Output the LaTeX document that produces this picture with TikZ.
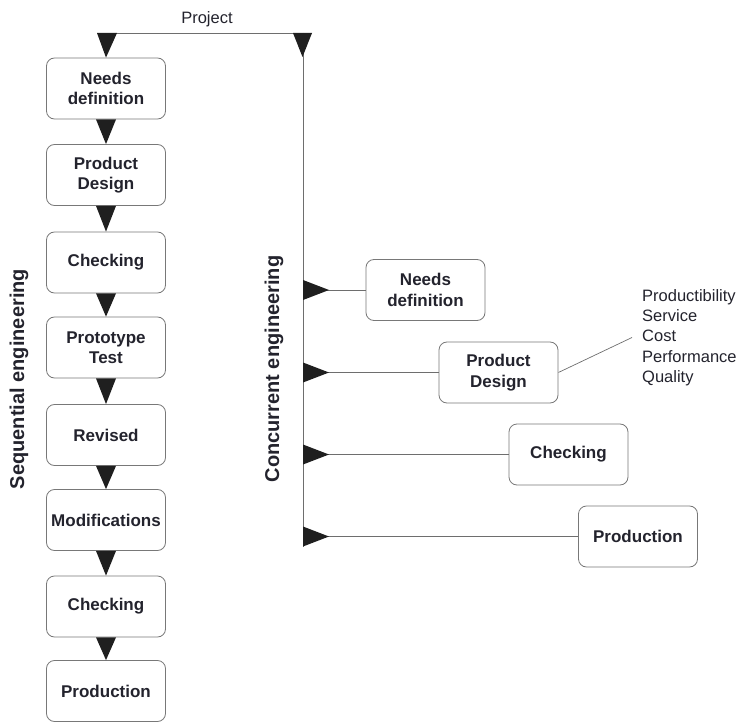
\documentclass[tikz,border=0pt]{standalone}
\usepackage{fontspec}
\setmainfont{Liberation Sans}
\usetikzlibrary{calc}
\definecolor{linegray}{RGB}{110,110,110}
\definecolor{boxgray}{RGB}{120,120,120}
\definecolor{txt}{RGB}{35,35,45}
\begin{document}
\begin{tikzpicture}[x=1pt,y=-1pt,
  stepbox/.style={draw=boxgray,line width=0.8pt,rounded corners=8pt,minimum width=119pt,minimum height=61pt,
    inner sep=1pt,align=center,text=txt,font=\fontsize{17}{20.5}\selectfont\bfseries},
  conn/.style={draw=linegray,line width=0.9pt},
  tri/.style={fill=black!88},
  sidelabel/.style={rotate=90,text=txt,font=\fontsize{20}{24}\selectfont\bfseries},
  plain/.style={text=txt,font=\fontsize{16.5}{20.25}\selectfont}]
\useasboundingbox (0,0) rectangle (742,722);
% top bar
\coordinate (tl) at (97,33);
\coordinate (tr) at (312,33);
\coordinate (vb) at (303,547);
\node[plain] (project) at (207,19) {Project};
% left column
\node[stepbox] (s1) at (106,88.5) {Needs\\definition};
\node[stepbox] (s2) at (106,175) {Product\\Design};
\node[stepbox] (s3) at (106,262.5) {Checking};
\node[stepbox] (s4) at (106,347.5) {Prototype\\Test};
\node[stepbox] (s5) at (106,435) {Revised};
\node[stepbox] (s6) at (106,520) {Modifications};
\node[stepbox] (s7) at (106,606.5) {Checking};
\node[stepbox] (s8) at (106,691) {Production};
% right column
\node[stepbox] (c1) at (425.5,290) {Needs\\definition};
\node[stepbox] (c2) at (498.5,372.5) {Product\\Design};
\node[stepbox] (c3) at (568.5,454.5) {Checking};
\node[stepbox] (c4) at (638,536.5) {Production};
\node[plain,align=left,anchor=west,inner sep=0pt] (list) at (642,337.5) {Productibility\\Service\\Cost\\Performance\\Quality};
% side labels
\node[sidelabel] (seq) at (19,379) {Sequential engineering};
\node[sidelabel] (conc) at (274,369) {Concurrent engineering};
% top line and vertical line
\draw[conn] (tl) -- (tr);
\draw[conn] (303,33) coordinate (vt) -- (vb);
% top triangles
\fill[tri] (tl) -- ($(tl)+(20,0)$) -- (s1.north) -- cycle;
\fill[tri] ($(tr)+(-19,0)$) -- (tr) -- (302.5,57) coordinate (trtip) -- cycle;
% sequential triangles
\foreach \a/\b in {s1/s2,s2/s3,s3/s4,s4/s5,s5/s6,s6/s7,s7/s8}{
  \fill[tri] ($(\a.south)+(-10,0)$) -- ($(\a.south)+(10,0)$) -- (\b.north) -- cycle;
}
% concurrent branches
\foreach \c in {c1,c2,c3,c4}{
  \coordinate (b\c) at (vt |- \c.west);
  \draw[conn] (b\c) -- (\c.west);
  \fill[tri] ($(b\c)+(0,-10)$) -- ($(b\c)+(26,0)$) -- ($(b\c)+(0,10)$) -- cycle;
}
% attribute line
\draw[conn,line width=0.7pt] (c2.east) -- ([xshift=-10pt]list.west);
\end{tikzpicture}
\end{document}
